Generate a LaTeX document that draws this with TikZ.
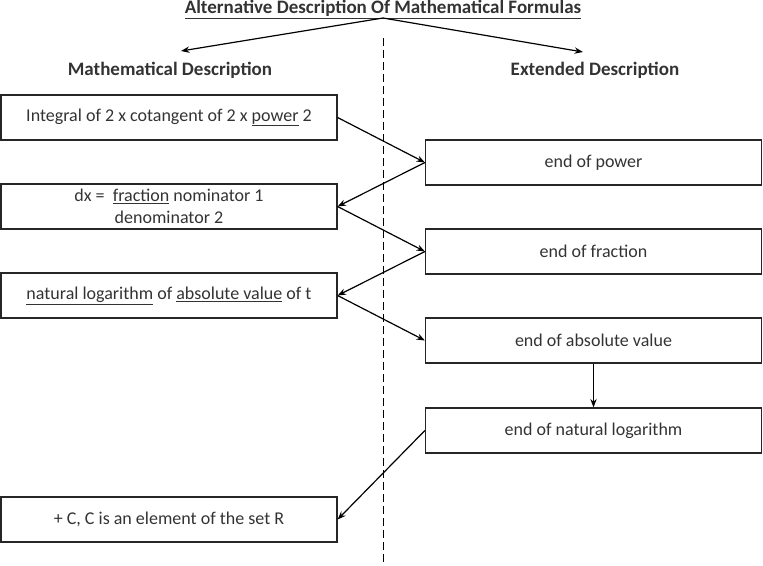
\documentclass[tikz,border=0pt]{standalone}
\usepackage{fontspec}
\setmainfont{Carlito}
\usetikzlibrary{arrows.meta}
\tikzset{>=Stealth,every node/.style={font=\fontsize{18}{22}\selectfont,text=black!80},mbox/.style={draw=black!85,line width=1.2pt,minimum width=336pt,minimum height=45pt,align=center,inner sep=2pt},flow/.style={line width=1.2pt,->},head/.style={font=\fontsize{19}{22}\selectfont\bfseries},divider/.style={line width=1pt,dash pattern=on 8pt off 4pt}}

\begin{document}
\begin{tikzpicture}[x=1pt,y=-1pt]
\useasboundingbox (0,0) rectangle (763,565);
\node[head] (title) at (383,9.5){\underline{Alternative Description Of Mathematical Formulas}};
\coordinate (src) at (383,18);\coordinate (ltip) at (181,51);\coordinate (rtip) at (583,52);
\draw[flow] (src)--(ltip);\draw[flow] (src)--(rtip);
\node[head] (mathdesc) at (170,70){Mathematical Description};\node[head] (extdesc) at (595,70){Extended Description};
\coordinate (divtop) at (383,38);\coordinate (divbot) at (383,565);\draw[divider] (divtop)--(divbot);
\node[mbox] (integral) at (169,117.5){Integral of 2 x cotangent of 2 x \underline{power} 2};
\node[mbox] (dx) at (169,206.5){dx =\ \ \underline{fraction} nominator 1\\denominator 2};
\node[mbox] (lnabs) at (169,295.5){\underline{natural logarithm} of \underline{absolute value} of t};
\node[mbox] (const) at (169,519.5){+ C, C is an element of the set R};
\node[mbox] (endpow) at (593.5,162.5){end of power};
\node[mbox] (endfrac) at (593.5,251.5){end of fraction};
\node[mbox] (endabs) at (593.5,340.5){end of absolute value};
\node[mbox] (endln) at (593.5,430.5){end of natural logarithm};
\draw[flow] (integral.east)--(endpow.west);\draw[flow] (endpow.west)--(dx.east);
\draw[flow] (dx.east)--(endfrac.west);\draw[flow] (endfrac.west)--(lnabs.east);
\draw[flow] (lnabs.east)--(endabs.west);\draw[flow] (endabs.south)--(endln.north);
\draw[flow] (endln.west)--(const.east);
\end{tikzpicture}
\end{document}
